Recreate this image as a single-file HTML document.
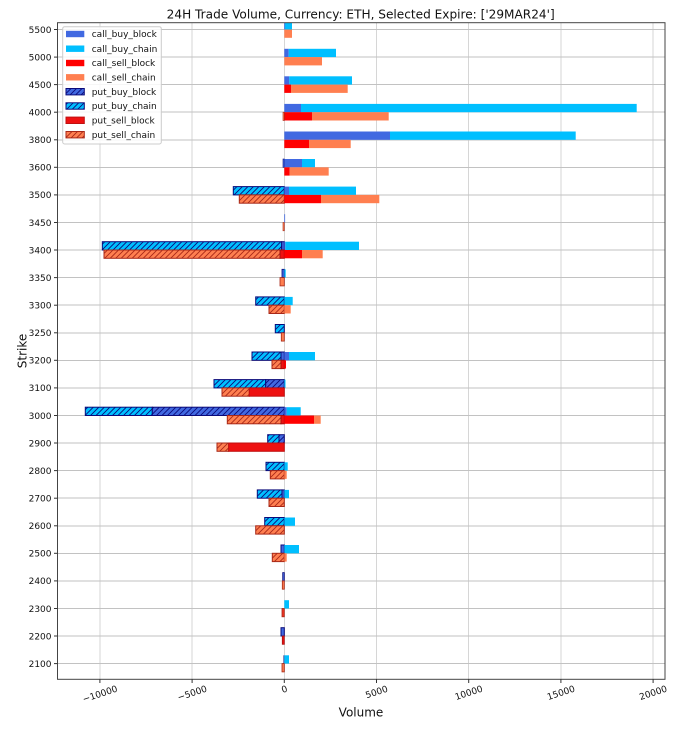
<!DOCTYPE html>
<html><head><meta charset="utf-8"><style>
html,body{margin:0;padding:0;background:#fff;}
svg{display:block;font-family:"DejaVu Sans","Liberation Sans",sans-serif;}
</style></head><body>
<svg width="682" height="729" viewBox="0 0 682 729" xmlns="http://www.w3.org/2000/svg">
<defs>
<pattern id="hb" patternUnits="userSpaceOnUse" width="5.5" height="5.5">
<path d="M-1,1 L1,-1 M0,5.5 L5.5,0 M4.5,6.5 L6.5,4.5" stroke="#0a0a7a" stroke-width="0.9"/>
</pattern>
<pattern id="hr" patternUnits="userSpaceOnUse" width="5.5" height="5.5">
<path d="M-1,1 L1,-1 M0,5.5 L5.5,0 M4.5,6.5 L6.5,4.5" stroke="#a82818" stroke-width="0.9"/>
</pattern>
<clipPath id="cp"><rect x="57.5" y="22.7" width="607.5" height="656.6"/></clipPath>
</defs>
<rect width="682" height="729" fill="#fff"/>
<!-- grid -->
<g shape-rendering="crispEdges" stroke-width="1">
<g stroke="#d6d6d6">
<line x1="99.9" y1="22.7" x2="99.9" y2="679.3"/>
<line x1="192.1" y1="22.7" x2="192.1" y2="679.3"/>
<line x1="284.3" y1="22.7" x2="284.3" y2="679.3"/>
<line x1="376.5" y1="22.7" x2="376.5" y2="679.3"/>
<line x1="468.7" y1="22.7" x2="468.7" y2="679.3"/>
<line x1="560.9" y1="22.7" x2="560.9" y2="679.3"/>
<line x1="653.1" y1="22.7" x2="653.1" y2="679.3"/>
</g>
<g stroke="#c2c2c2">
<line x1="57.5" y1="663.6" x2="665" y2="663.6"/>
<line x1="57.5" y1="636.0" x2="665" y2="636.0"/>
<line x1="57.5" y1="608.5" x2="665" y2="608.5"/>
<line x1="57.5" y1="580.9" x2="665" y2="580.9"/>
<line x1="57.5" y1="553.3" x2="665" y2="553.3"/>
<line x1="57.5" y1="525.8" x2="665" y2="525.8"/>
<line x1="57.5" y1="498.2" x2="665" y2="498.2"/>
<line x1="57.5" y1="470.6" x2="665" y2="470.6"/>
<line x1="57.5" y1="443.0" x2="665" y2="443.0"/>
<line x1="57.5" y1="415.5" x2="665" y2="415.5"/>
<line x1="57.5" y1="387.9" x2="665" y2="387.9"/>
<line x1="57.5" y1="360.3" x2="665" y2="360.3"/>
<line x1="57.5" y1="332.8" x2="665" y2="332.8"/>
<line x1="57.5" y1="305.2" x2="665" y2="305.2"/>
<line x1="57.5" y1="277.6" x2="665" y2="277.6"/>
<line x1="57.5" y1="250.0" x2="665" y2="250.0"/>
<line x1="57.5" y1="222.5" x2="665" y2="222.5"/>
<line x1="57.5" y1="194.9" x2="665" y2="194.9"/>
<line x1="57.5" y1="167.3" x2="665" y2="167.3"/>
<line x1="57.5" y1="139.8" x2="665" y2="139.8"/>
<line x1="57.5" y1="112.2" x2="665" y2="112.2"/>
<line x1="57.5" y1="84.6" x2="665" y2="84.6"/>
<line x1="57.5" y1="57.1" x2="665" y2="57.1"/>
<line x1="57.5" y1="29.5" x2="665" y2="29.5"/>
</g>
</g>

<g clip-path="url(#cp)">
<!-- 5500 t=29.5 -->
<rect x="284.3" y="21.2" width="7.7" height="8.3" fill="#00bfff"/>
<rect x="284.3" y="21.2" width="0.8" height="8.3" fill="#4169e1"/>
<rect x="284.3" y="29.5" width="7.7" height="8.3" fill="#ff7f50"/>
<!-- 5000 t=57.1 -->
<rect x="284.3" y="48.8" width="4.4" height="8.3" fill="#4169e1"/>
<rect x="288.7" y="48.8" width="47.3" height="8.3" fill="#00bfff"/>
<rect x="284.3" y="57.1" width="37.7" height="8.3" fill="#ff7f50"/>
<!-- 4500 t=84.6 -->
<rect x="284.3" y="76.3" width="5" height="8.3" fill="#4169e1"/>
<rect x="289.3" y="76.3" width="62.7" height="8.3" fill="#00bfff"/>
<rect x="284.3" y="84.6" width="6.7" height="8.3" fill="#ff0000"/>
<rect x="291" y="84.6" width="56.7" height="8.3" fill="#ff7f50"/>
<!-- 4000 t=112.2 -->
<rect x="284.3" y="103.9" width="16.7" height="8.3" fill="#4169e1"/>
<rect x="301" y="103.9" width="335.7" height="8.3" fill="#00bfff"/>
<rect x="284.3" y="112.2" width="27.7" height="8.3" fill="#ff0000"/>
<rect x="312" y="112.2" width="76.7" height="8.3" fill="#ff7f50"/>
<rect x="283" y="112.2" width="1.3" height="8.3" fill="#ff7f50" stroke="#a82818" stroke-width="0.6"/>
<!-- 3800 t=139.8 -->
<rect x="284.3" y="131.5" width="105.7" height="8.3" fill="#4169e1"/>
<rect x="390" y="131.5" width="185.7" height="8.3" fill="#00bfff"/>
<rect x="284.3" y="139.8" width="24.7" height="8.3" fill="#ff0000"/>
<rect x="309" y="139.8" width="41.7" height="8.3" fill="#ff7f50"/>
<!-- 3600 t=167.3 -->
<rect x="283" y="159" width="1.3" height="8.3" fill="#4169e1" stroke="#0a0a7a" stroke-width="0.6"/>
<rect x="284.3" y="159" width="17.7" height="8.3" fill="#4169e1"/>
<rect x="302" y="159" width="13" height="8.3" fill="#00bfff"/>
<rect x="284.3" y="167.3" width="5.4" height="8.3" fill="#ff0000"/>
<rect x="289.7" y="167.3" width="39" height="8.3" fill="#ff7f50"/>
<!-- 3500 t=194.9 -->
<rect x="233.3" y="186.6" width="51" height="8.3" fill="#00bfff"/>
<rect x="233.3" y="186.6" width="51" height="8.3" fill="url(#hb)" stroke="#0a0a7a" stroke-width="1"/>
<rect x="284.3" y="186.6" width="4.7" height="8.3" fill="#4169e1"/>
<rect x="289" y="186.6" width="67" height="8.3" fill="#00bfff"/>
<rect x="239.3" y="194.9" width="45" height="8.3" fill="#ff7f50"/>
<rect x="239.3" y="194.9" width="45" height="8.3" fill="url(#hr)" stroke="#a82818" stroke-width="1"/>
<rect x="284.3" y="194.9" width="36.7" height="8.3" fill="#ff0000"/>
<rect x="321" y="194.9" width="58.3" height="8.3" fill="#ff7f50"/>
<!-- 3450 t=222.5 -->
<rect x="284.3" y="214.2" width="0.8" height="8.3" fill="#4169e1"/>
<rect x="283" y="222.5" width="1.3" height="8.3" fill="#ff7f50" stroke="#a82818" stroke-width="0.6"/>
<!-- 3400 t=250 -->
<rect x="102.3" y="241.7" width="179.4" height="8.3" fill="#00bfff"/>
<rect x="102.3" y="241.7" width="179.4" height="8.3" fill="url(#hb)" stroke="#0a0a7a" stroke-width="1"/>
<rect x="281.7" y="241.7" width="2.6" height="8.3" fill="#4169e1" stroke="#0a0a7a" stroke-width="1"/>
<rect x="284.3" y="241.7" width="1" height="8.3" fill="#4169e1"/>
<rect x="285.3" y="241.7" width="73.7" height="8.3" fill="#00bfff"/>
<rect x="104" y="250" width="176" height="8.3" fill="#ff7f50"/>
<rect x="104" y="250" width="176" height="8.3" fill="url(#hr)" stroke="#a82818" stroke-width="1"/>
<rect x="280" y="250" width="4.3" height="8.3" fill="#ee1111" stroke="#a81010" stroke-width="1"/>
<rect x="284.3" y="250" width="17.7" height="8.3" fill="#ff0000"/>
<rect x="302" y="250" width="20.7" height="8.3" fill="#ff7f50"/>
<!-- 3350 t=277.6 -->
<rect x="282" y="269.3" width="2.3" height="8.3" fill="#4169e1" stroke="#0a0a7a" stroke-width="0.8"/>
<rect x="284.3" y="269.3" width="1.4" height="8.3" fill="#00bfff"/>
<rect x="280" y="277.6" width="4.3" height="8.3" fill="#ff7f50" stroke="#a82818" stroke-width="0.8"/>
<!-- 3300 t=305.2 -->
<rect x="255.7" y="296.9" width="28.6" height="8.3" fill="#00bfff"/>
<rect x="255.7" y="296.9" width="28.6" height="8.3" fill="url(#hb)" stroke="#0a0a7a" stroke-width="1"/>
<rect x="284.3" y="296.9" width="8.4" height="8.3" fill="#00bfff"/>
<rect x="269" y="305.2" width="15.3" height="8.3" fill="#ff7f50"/>
<rect x="269" y="305.2" width="15.3" height="8.3" fill="url(#hr)" stroke="#a82818" stroke-width="1"/>
<rect x="284.3" y="305.2" width="6.4" height="8.3" fill="#ff7f50"/>
<!-- 3250 t=332.8 -->
<rect x="275.3" y="324.5" width="9" height="8.3" fill="#00bfff"/>
<rect x="275.3" y="324.5" width="9" height="8.3" fill="url(#hb)" stroke="#0a0a7a" stroke-width="1"/>
<rect x="281.3" y="332.8" width="3" height="8.3" fill="#ff7f50" stroke="#a82818" stroke-width="0.8"/>
<!-- 3200 t=360.3 -->
<rect x="252" y="352" width="29" height="8.3" fill="#00bfff"/>
<rect x="252" y="352" width="29" height="8.3" fill="url(#hb)" stroke="#0a0a7a" stroke-width="1"/>
<rect x="281" y="352" width="3.3" height="8.3" fill="#4169e1" stroke="#0a0a7a" stroke-width="1"/>
<rect x="284.3" y="352" width="4.7" height="8.3" fill="#4169e1"/>
<rect x="289" y="352" width="26" height="8.3" fill="#00bfff"/>
<rect x="272" y="360.3" width="9" height="8.3" fill="#ff7f50"/>
<rect x="272" y="360.3" width="9" height="8.3" fill="url(#hr)" stroke="#a82818" stroke-width="1"/>
<rect x="281" y="360.3" width="3.3" height="8.3" fill="#ee1111" stroke="#a81010" stroke-width="1"/>
<rect x="284.3" y="360.3" width="1.7" height="8.3" fill="#ff0000"/>
<!-- 3100 t=387.9 -->
<rect x="214" y="379.6" width="51.7" height="8.3" fill="#00bfff"/>
<rect x="214" y="379.6" width="51.7" height="8.3" fill="url(#hb)" stroke="#0a0a7a" stroke-width="1"/>
<rect x="265.7" y="379.6" width="18.6" height="8.3" fill="#4169e1"/>
<rect x="265.7" y="379.6" width="18.6" height="8.3" fill="url(#hb)" stroke="#0a0a7a" stroke-width="1"/>
<rect x="284.3" y="379.6" width="1.2" height="8.3" fill="#00bfff"/>
<rect x="222" y="387.9" width="27.3" height="8.3" fill="#ff7f50"/>
<rect x="222" y="387.9" width="27.3" height="8.3" fill="url(#hr)" stroke="#a82818" stroke-width="1"/>
<rect x="249.3" y="387.9" width="35" height="8.3" fill="#ee1111" stroke="#c01010" stroke-width="1"/>
<!-- 3000 t=415.5 -->
<rect x="85.3" y="407.2" width="67" height="8.3" fill="#00bfff"/>
<rect x="85.3" y="407.2" width="67" height="8.3" fill="url(#hb)" stroke="#0a0a7a" stroke-width="1"/>
<rect x="152.3" y="407.2" width="132" height="8.3" fill="#4169e1"/>
<rect x="152.3" y="407.2" width="132" height="8.3" fill="url(#hb)" stroke="#0a0a7a" stroke-width="1"/>
<rect x="284.3" y="407.2" width="2.4" height="8.3" fill="#4169e1"/>
<rect x="286.7" y="407.2" width="14" height="8.3" fill="#00bfff"/>
<rect x="227.3" y="415.5" width="53.7" height="8.3" fill="#ff7f50"/>
<rect x="227.3" y="415.5" width="53.7" height="8.3" fill="url(#hr)" stroke="#a82818" stroke-width="1"/>
<rect x="281" y="415.5" width="3.3" height="8.3" fill="#ee1111" stroke="#a81010" stroke-width="1"/>
<rect x="284.3" y="415.5" width="29.7" height="8.3" fill="#ff0000"/>
<rect x="314" y="415.5" width="6.7" height="8.3" fill="#ff7f50"/>
<!-- 2900 t=443 -->
<rect x="267.7" y="434.7" width="11.3" height="8.3" fill="#00bfff"/>
<rect x="267.7" y="434.7" width="11.3" height="8.3" fill="url(#hb)" stroke="#0a0a7a" stroke-width="1"/>
<rect x="279" y="434.7" width="5.3" height="8.3" fill="#4169e1"/>
<rect x="279" y="434.7" width="5.3" height="8.3" fill="url(#hb)" stroke="#0a0a7a" stroke-width="1"/>
<rect x="217" y="443" width="11.7" height="8.3" fill="#ff7f50"/>
<rect x="217" y="443" width="11.7" height="8.3" fill="url(#hr)" stroke="#a82818" stroke-width="1"/>
<rect x="228.7" y="443" width="55.6" height="8.3" fill="#ee1111" stroke="#c01010" stroke-width="1"/>
<!-- 2800 t=470.6 -->
<rect x="266" y="462.3" width="18.3" height="8.3" fill="#00bfff"/>
<rect x="266" y="462.3" width="18.3" height="8.3" fill="url(#hb)" stroke="#0a0a7a" stroke-width="1"/>
<rect x="284.3" y="462.3" width="3.4" height="8.3" fill="#00bfff"/>
<rect x="270.3" y="470.6" width="14" height="8.3" fill="#ff7f50"/>
<rect x="270.3" y="470.6" width="14" height="8.3" fill="url(#hr)" stroke="#a82818" stroke-width="1"/>
<rect x="284.3" y="470.6" width="2.4" height="8.3" fill="#ff7f50"/>
<!-- 2700 t=498.2 -->
<rect x="257.3" y="489.9" width="24.7" height="8.3" fill="#00bfff"/>
<rect x="257.3" y="489.9" width="24.7" height="8.3" fill="url(#hb)" stroke="#0a0a7a" stroke-width="1"/>
<rect x="282" y="489.9" width="2.3" height="8.3" fill="#4169e1" stroke="#0a0a7a" stroke-width="1"/>
<rect x="284.3" y="489.9" width="4.7" height="8.3" fill="#00bfff"/>
<rect x="269" y="498.2" width="15.3" height="8.3" fill="#ff7f50"/>
<rect x="269" y="498.2" width="15.3" height="8.3" fill="url(#hr)" stroke="#a82818" stroke-width="1"/>
<!-- 2600 t=525.8 -->
<rect x="264.7" y="517.5" width="19.6" height="8.3" fill="#00bfff"/>
<rect x="264.7" y="517.5" width="19.6" height="8.3" fill="url(#hb)" stroke="#0a0a7a" stroke-width="1"/>
<rect x="284.3" y="517.5" width="10.7" height="8.3" fill="#00bfff"/>
<rect x="255.7" y="525.8" width="28.6" height="8.3" fill="#ff7f50"/>
<rect x="255.7" y="525.8" width="28.6" height="8.3" fill="url(#hr)" stroke="#a82818" stroke-width="1"/>
<!-- 2500 t=553.3 -->
<rect x="281" y="545" width="3.3" height="8.3" fill="#4169e1" stroke="#0a0a7a" stroke-width="1"/>
<rect x="284.3" y="545" width="14.7" height="8.3" fill="#00bfff"/>
<rect x="272.3" y="553.3" width="12" height="8.3" fill="#ff7f50"/>
<rect x="272.3" y="553.3" width="12" height="8.3" fill="url(#hr)" stroke="#a82818" stroke-width="1"/>
<rect x="284.3" y="553.3" width="2.4" height="8.3" fill="#ff7f50"/>
<!-- 2400 t=580.9 -->
<rect x="282.7" y="572.6" width="1.6" height="8.3" fill="#4169e1" stroke="#0a0a7a" stroke-width="0.8"/>
<rect x="282.3" y="580.9" width="2" height="8.3" fill="#ff7f50" stroke="#a82818" stroke-width="0.8"/>
<!-- 2300 t=608.5 -->
<rect x="284.3" y="600.2" width="4.7" height="8.3" fill="#00bfff"/>
<rect x="282" y="608.5" width="2.3" height="8.3" fill="#ee3322" stroke="#a82818" stroke-width="0.8"/>
<!-- 2200 t=636 -->
<rect x="281" y="627.7" width="3.3" height="8.3" fill="#4169e1" stroke="#0a0a7a" stroke-width="1"/>
<rect x="282.3" y="636" width="2" height="8.3" fill="#ee1111" stroke="#a81010" stroke-width="0.8"/>
<!-- 2100 t=663.6 -->
<rect x="283.5" y="655.3" width="0.8" height="8.3" fill="#0a0a7a"/>
<rect x="284.3" y="655.3" width="4.7" height="8.3" fill="#00bfff"/>
<rect x="282" y="663.6" width="2.3" height="8.3" fill="#ff7f50" stroke="#a82818" stroke-width="0.8"/>
</g>

<!-- spines -->
<rect x="57.5" y="22.7" width="607.5" height="656.6" fill="none" stroke="#444" stroke-width="1"/>

<!-- y ticks -->
<g stroke="#333" stroke-width="1">
<line x1="54" y1="663.6" x2="57.5" y2="663.6"/><line x1="54" y1="636.0" x2="57.5" y2="636.0"/>
<line x1="54" y1="608.5" x2="57.5" y2="608.5"/><line x1="54" y1="580.9" x2="57.5" y2="580.9"/>
<line x1="54" y1="553.3" x2="57.5" y2="553.3"/><line x1="54" y1="525.8" x2="57.5" y2="525.8"/>
<line x1="54" y1="498.2" x2="57.5" y2="498.2"/><line x1="54" y1="470.6" x2="57.5" y2="470.6"/>
<line x1="54" y1="443.0" x2="57.5" y2="443.0"/><line x1="54" y1="415.5" x2="57.5" y2="415.5"/>
<line x1="54" y1="387.9" x2="57.5" y2="387.9"/><line x1="54" y1="360.3" x2="57.5" y2="360.3"/>
<line x1="54" y1="332.8" x2="57.5" y2="332.8"/><line x1="54" y1="305.2" x2="57.5" y2="305.2"/>
<line x1="54" y1="277.6" x2="57.5" y2="277.6"/><line x1="54" y1="250.0" x2="57.5" y2="250.0"/>
<line x1="54" y1="222.5" x2="57.5" y2="222.5"/><line x1="54" y1="194.9" x2="57.5" y2="194.9"/>
<line x1="54" y1="167.3" x2="57.5" y2="167.3"/><line x1="54" y1="139.8" x2="57.5" y2="139.8"/>
<line x1="54" y1="112.2" x2="57.5" y2="112.2"/><line x1="54" y1="84.6" x2="57.5" y2="84.6"/>
<line x1="54" y1="57.1" x2="57.5" y2="57.1"/><line x1="54" y1="29.5" x2="57.5" y2="29.5"/>
<line x1="99.9" y1="679.3" x2="99.9" y2="683"/><line x1="192.1" y1="679.3" x2="192.1" y2="683"/>
<line x1="284.3" y1="679.3" x2="284.3" y2="683"/><line x1="376.5" y1="679.3" x2="376.5" y2="683"/>
<line x1="468.7" y1="679.3" x2="468.7" y2="683"/><line x1="560.9" y1="679.3" x2="560.9" y2="683"/>
<line x1="653.1" y1="679.3" x2="653.1" y2="683"/>
</g>
<g font-size="9" fill="#111" text-anchor="end">
<text x="51.5" y="666.9">2100</text><text x="51.5" y="639.3">2200</text>
<text x="51.5" y="611.8">2300</text><text x="51.5" y="584.2">2400</text>
<text x="51.5" y="556.6">2500</text><text x="51.5" y="529.1">2600</text>
<text x="51.5" y="501.5">2700</text><text x="51.5" y="473.9">2800</text>
<text x="51.5" y="446.3">2900</text><text x="51.5" y="418.8">3000</text>
<text x="51.5" y="391.2">3100</text><text x="51.5" y="363.6">3200</text>
<text x="51.5" y="336.1">3250</text><text x="51.5" y="308.5">3300</text>
<text x="51.5" y="280.9">3350</text><text x="51.5" y="253.3">3400</text>
<text x="51.5" y="225.8">3450</text><text x="51.5" y="198.2">3500</text>
<text x="51.5" y="170.6">3600</text><text x="51.5" y="143.1">3800</text>
<text x="51.5" y="115.5">4000</text><text x="51.5" y="87.9">4500</text>
<text x="51.5" y="60.4">5000</text><text x="51.5" y="32.8">5500</text>
</g>
<!-- x tick labels -->
<g font-size="9" fill="#111" text-anchor="middle">
<text transform="translate(99.9,693.7) rotate(-18)" x="0" y="3.3">−10000</text>
<text transform="translate(192.1,692.8) rotate(-18)" x="0" y="3.3">−5000</text>
<text transform="translate(284.3,689) rotate(-18)" x="0" y="3.3">0</text>
<text transform="translate(376.5,691.7) rotate(-18)" x="0" y="3.3">5000</text>
<text transform="translate(468.7,692.5) rotate(-18)" x="0" y="3.3">10000</text>
<text transform="translate(560.9,692.5) rotate(-18)" x="0" y="3.3">15000</text>
<text transform="translate(653.1,692.5) rotate(-18)" x="0" y="3.3">20000</text>
</g>
<!-- axis labels & title -->
<text x="361" y="716.7" font-size="12" text-anchor="middle" fill="#111">Volume</text>
<text transform="translate(26.5,351) rotate(-90)" x="0" y="0" font-size="12" text-anchor="middle" fill="#111">Strike</text>
<text x="166.7" y="18.4" font-size="12" fill="#111" textLength="388" lengthAdjust="spacingAndGlyphs">24H Trade Volume, Currency: ETH, Selected Expire: ['29MAR24']</text>

<!-- legend -->
<rect x="62.7" y="26.7" width="98.6" height="117.3" rx="2" fill="#fff" fill-opacity="0.85" stroke="#cccccc" stroke-width="1"/>
<rect x="66" y="30.8" width="18.3" height="6.4" fill="#4169e1"/>
<rect x="66" y="45.5" width="18.3" height="6.4" fill="#00bfff"/>
<rect x="66" y="59.8" width="18.3" height="6.4" fill="#ff0000"/>
<rect x="66" y="74.1" width="18.3" height="6.4" fill="#ff7f50"/>
<rect x="66" y="88.5" width="18.3" height="6.4" fill="#4169e1"/>
<rect x="66" y="88.5" width="18.3" height="6.4" fill="url(#hb)" stroke="#0a0a7a" stroke-width="1"/>
<rect x="66" y="102.8" width="18.3" height="6.4" fill="#00bfff"/>
<rect x="66" y="102.8" width="18.3" height="6.4" fill="url(#hb)" stroke="#0a0a7a" stroke-width="1"/>
<rect x="66" y="117.1" width="18.3" height="6.4" fill="#ee1111" stroke="#c01010" stroke-width="1"/>
<rect x="66" y="131.5" width="18.3" height="6.4" fill="#ff7f50"/>
<rect x="66" y="131.5" width="18.3" height="6.4" fill="url(#hr)" stroke="#a82818" stroke-width="1"/>
<g font-size="9" fill="#111">
<text x="91.7" y="37.2">call_buy_block</text>
<text x="91.7" y="51.9">call_buy_chain</text>
<text x="91.7" y="66.2">call_sell_block</text>
<text x="91.7" y="80.5">call_sell_chain</text>
<text x="91.7" y="94.9">put_buy_block</text>
<text x="91.7" y="109.2">put_buy_chain</text>
<text x="91.7" y="123.5">put_sell_block</text>
<text x="91.7" y="137.9">put_sell_chain</text>
</g>
</svg>
</body></html>
